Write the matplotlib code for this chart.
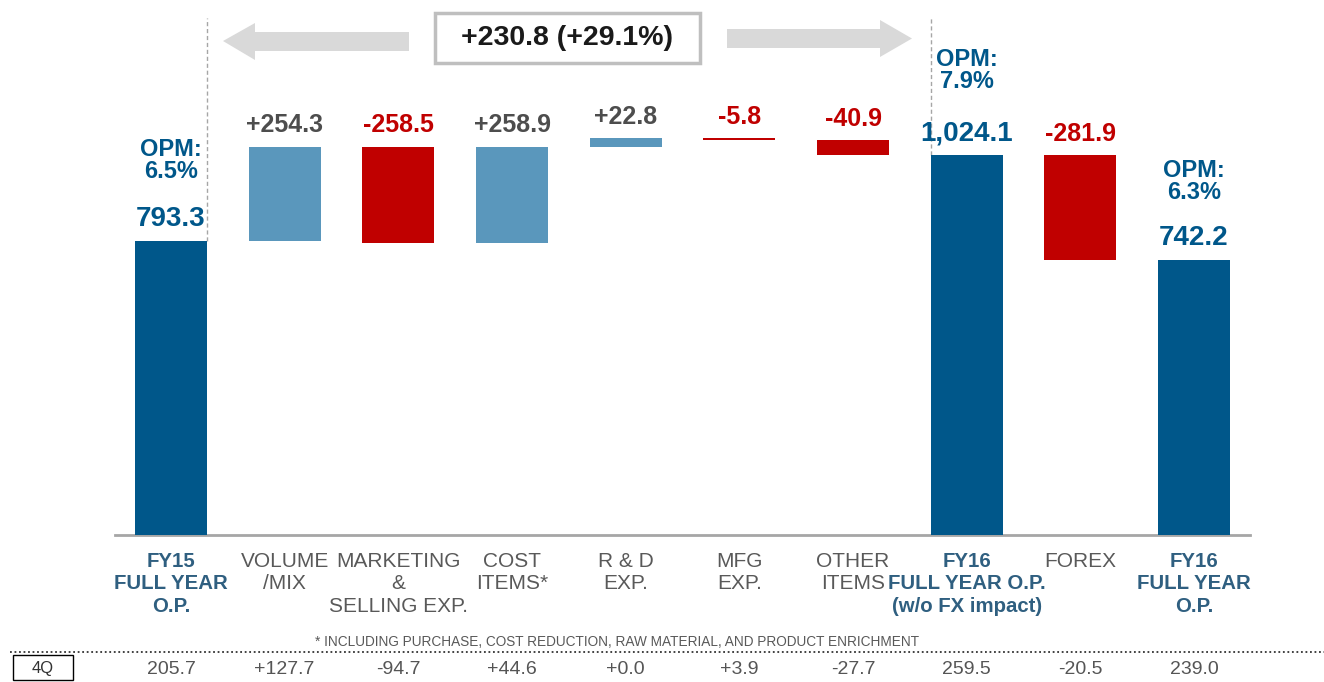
import matplotlib
matplotlib.use('Agg')
import matplotlib.pyplot as plt
import matplotlib.transforms as mtransforms
from matplotlib.patches import Rectangle, Polygon

# data
categories = ['FY15\nFULL YEAR\nO.P.', 'VOLUME\n/MIX', 'MARKETING\n&\nSELLING EXP.',
              'COST\nITEMS*', 'R & D\nEXP.', 'MFG\nEXP.', 'OTHER\nITEMS',
              'FY16\nFULL YEAR O.P.\n(w/o FX impact)', 'FOREX', 'FY16\nFULL YEAR\nO.P.']
values = [793.3, 254.3, -258.5, 258.9, 22.8, -5.8, -40.9, 1024.1, -281.9, 742.2]
is_total = [True, False, False, False, False, False, False, True, False, True]
value_labels = ['793.3', '+254.3', '-258.5', '+258.9', '+22.8', '-5.8', '-40.9',
                '1,024.1', '-281.9', '742.2']
opm_labels = {0: 'OPM:\n6.5%', 7: 'OPM:\n7.9%', 9: 'OPM:\n6.3%'}
q4_values = ['205.7', '+127.7', '-94.7', '+44.6', '+0.0', '+3.9', '-27.7',
             '259.5', '-20.5', '239.0']
change_label = '+230.8 (+29.1%)'
footnote = '* INCLUDING PURCHASE, COST REDUCTION, RAW MATERIAL, AND PRODUCT ENRICHMENT'

# colours / fonts
DARK = '#00578A'
LIGHT = '#5A97BC'
RED = '#C00000'
GREY_TXT = '#4D4D4D'
CAT_BLUE = '#2F5F80'
SANS = ['Liberation Sans', 'DejaVu Sans']

W, H = 1324, 682
fig = plt.figure(figsize=(W / 100, H / 100), dpi=100)
ax = fig.add_axes([0, 0, 1, 1])
ax.axis('off')

# layout: bar slot 113.67 px, first bar centred at 171 px, baseline at 535 px
slot, x0, base, scale = 113.67, 171, 535, 0.3706
ax.set_xlim(-x0 / slot, (W - x0) / slot)
ax.set_ylim((base - H) / scale, base / scale)

# pixel transform (y down) and blended data-x / pixel-y
px = mtransforms.Affine2D().scale(1 / W, -1 / H).translate(0, 1) + fig.transFigure
xpx = mtransforms.blended_transform_factory(ax.transData, px)

# waterfall
bottoms, heights, colors = [], [], []
running = 0
for v, tot in zip(values, is_total):
    if tot:
        bottoms.append(0)
        heights.append(v)
        colors.append(DARK)
        running = v
    else:
        bottoms.append(running + min(v, 0))
        heights.append(abs(v))
        colors.append(LIGHT if v > 0 else RED)
        running += v

x = list(range(len(values)))
width = 0.633
ax.bar(x, heights, bottom=bottoms, width=width, color=colors, zorder=3)

# value labels
for i, (b, h, v, tot) in enumerate(zip(bottoms, heights, values, is_total)):
    if tot:
        col, fs = DARK, 20
    else:
        col, fs = (GREY_TXT if v > 0 else RED), 18
    ax.annotate(value_labels[i], (i, b + h), xytext=(0, 10.5), textcoords='offset points',
                ha='center', va='baseline', fontsize=fs, fontweight='bold',
                color=col, family=SANS)

opm_offset = {0: 42, 7: 45, 9: 40}
for i, txt in opm_labels.items():
    ax.annotate(txt, (i, bottoms[i] + heights[i]), xytext=(0, opm_offset[i]),
                textcoords='offset points', ha='center', va='bottom', fontsize=17,
                fontweight='bold', color=DARK, family=SANS, linespacing=0.95)

# baseline
ax.plot([x[0] - 0.49, x[-1] + 0.49], [0, 0], color='#A6A6A6', lw=2, zorder=2)

# dashed reference lines
top_val = (base - 18) / scale
ax.plot([x[0] + width / 2] * 2, [values[0], top_val], color='#A6A6A6', lw=1,
        dashes=(3, 2), zorder=1)
ax.plot([x[7] - width / 2] * 2, [values[7], top_val], color='#A6A6A6', lw=1,
        dashes=(3, 2), zorder=1)

# category labels
for i, cat in enumerate(categories):
    bold = is_total[i]
    ax.text(i, 552, cat, transform=xpx, ha='center', va='top',
            fontsize=14.7 if bold else 15,
            fontweight='bold' if bold else 'normal',
            color=CAT_BLUE if bold else '#595959', family=SANS, linespacing=1.23)

# arrows and change box
arrow_kw = dict(transform=px, facecolor='#D9D9D9', edgecolor='none')
fig.patches.append(Polygon([(223, 41), (255, 23), (255, 32), (409, 32), (409, 51),
                            (255, 51), (255, 60)], **arrow_kw))
fig.patches.append(Polygon([(727, 29), (880, 29), (880, 20), (912, 38.5), (880, 57),
                            (880, 48), (727, 48)], **arrow_kw))
fig.patches.append(Rectangle((435, 13), 265, 50, transform=px, facecolor='white',
                             edgecolor='#BFBFBF', lw=2.5))
fig.text(567, 38, change_label, transform=px, ha='center', va='center', fontsize=20.5,
         fontweight='bold', color='#1A1A1A', family=SANS)

# footnote
fig.text(617, 642, footnote, transform=px, ha='center', va='center', fontsize=9.8,
         color='#595959', family=SANS)

# 4Q row
fig.lines.append(plt.Line2D([10, W], [652, 652], transform=px, color='#333333',
                            lw=1.3, linestyle=(0, (1, 1.5))))
fig.patches.append(Rectangle((13, 655), 60, 25, transform=px, facecolor='white',
                             edgecolor='black', lw=1))
fig.text(43, 668, '4Q', transform=px, ha='center', va='center', fontsize=12,
         color='#333333', family=SANS)
for i, q in enumerate(q4_values):
    ax.text(i, 669, q, transform=xpx, ha='center', va='center', fontsize=14,
            color='#555555', family=SANS)

fig.savefig('out.png', dpi=100)
